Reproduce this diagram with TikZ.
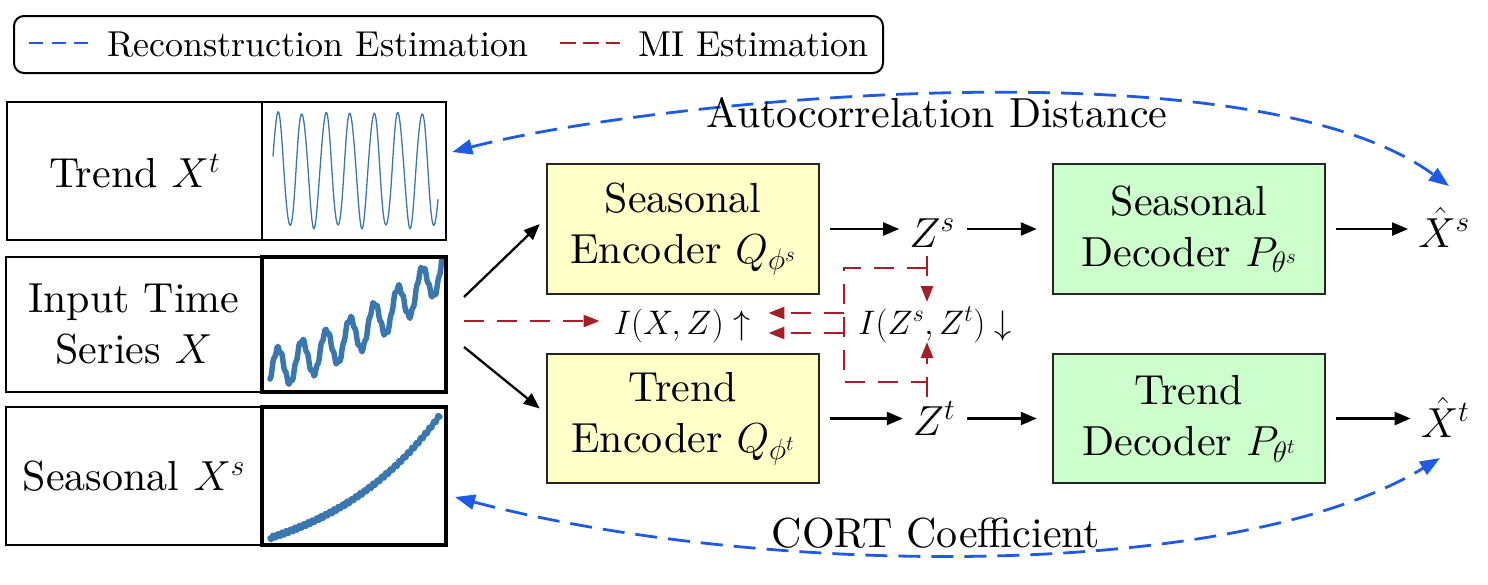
\RequirePackage{fix-cm}
\documentclass[tikz,border=0pt]{standalone}
\usepackage[no-math]{fontspec}
\setmainfont{lmroman10-regular.otf}
\usetikzlibrary{arrows.meta}
\definecolor{rblue}{RGB}{30,90,230}
\definecolor{rred}{RGB}{165,30,40}
\definecolor{yfill}{RGB}{255,255,200}
\definecolor{gfill}{RGB}{204,255,204}
\definecolor{pblue}{RGB}{58,118,176}
\begin{document}
\begin{tikzpicture}[x=1pt,y=-1pt,
  big/.style={font=\fontsize{42}{51}\selectfont},
  midf/.style={font=\fontsize{34}{40}\selectfont},
  legf/.style={font=\fontsize{36}{42}\selectfont},
  blk/.style={draw=black!85, line width=2.5pt, minimum width=272pt, minimum height=130pt, inner sep=0pt, align=center, big},
  encbox/.style={blk, fill=yfill},
  decbox/.style={blk, fill=gfill},
  lbl/.style={draw, line width=2pt, minimum width=255pt, minimum height=138pt, inner sep=0pt, align=center, big},
  pfr/.style={draw, minimum width=184pt, minimum height=138pt, inner sep=0pt},
  txt/.style={big, inner sep=2pt},
  arr/.style={-{Triangle[length=16pt,width=13pt]}, line width=2.3pt},
  bdash/.style={rblue, line width=2.8pt, dash pattern=on 22pt off 11pt},
  btips/.style={{Triangle[length=20pt,width=15pt]}-{Triangle[length=20pt,width=15pt]}},
  rdash/.style={rred, line width=2.5pt, dash pattern=on 20pt off 13pt},
  rtip/.style={-{Triangle[length=16pt,width=12pt]}}
]
\useasboundingbox (0,0) rectangle (1488,584);

% legend
\node[draw, rounded corners=10pt, line width=2pt, minimum width=869pt, minimum height=57pt, inner sep=0pt] (leg) at (448.5,44.5) {};
\coordinate (lb1) at (29,43);
\coordinate (lb2) at (88,43);
\draw[rblue, line width=2.8pt, dash pattern=on 14pt off 8.5pt] (lb1) -- (lb2);
\node[legf, anchor=base west, inner sep=0pt] (legr) at (107,56) {Reconstruction Estimation};
\coordinate (lr1) at (560,43);
\coordinate (lr2) at (620,43);
\draw[rred, line width=2.8pt, dash pattern=on 16pt off 7pt] (lr1) -- (lr2);
\node[legf, anchor=base west, inner sep=0pt] (legm) at (638,56) {MI Estimation};

% plots
\draw[pblue, line width=1.3pt, line join=round] plot[domain=273:438, samples=166] (\x, {170 - 57*sin(15*(\x-272)) + 2*sin(37*(\x-272))});
\draw[pblue, line width=5.5pt, line join=round, line cap=round] plot[domain=270:442, samples=173] (\x,{366 - 0.2955*(\x-283) - 19.58*((\x-283)/100)^2 - 19*sin(15*(\x-272)) + 2.5*sin(83*(\x-270))});
\draw[pblue, line width=5.5pt, line join=round, line cap=round] plot[domain=270:440, samples=171] (\x, {538 - 123*(exp(1.46*(\x-270)/170)-1)/3.306 + 2*sin(83*(\x-270))});

% left boxes
\node[lbl] (tl) at (134.5,171) {Trend $X^t$};
\node[pfr, line width=2.6pt] (tp) at (354,171) {};
\node[lbl, minimum width=256pt, minimum height=135pt] (il) at (134,324.5) {Input Time\\Series $X$};
\node[pfr, line width=4pt, minimum height=135pt] (ip) at (354,324.5) {};
\node[lbl, minimum width=256pt] (sl) at (134,476) {Seasonal $X^s$};
\node[pfr, line width=4pt] (sp) at (354,476) {};

% encoders / decoders
\node[encbox] (senc) at (683,229) {Seasonal\\Encoder $Q_{\phi^s}$};
\node[encbox, minimum height=129pt] (tenc) at (683,418.5) {Trend\\Encoder $Q_{\phi^t}$};
\node[decbox] (sdec) at (1189,229) {Seasonal\\Decoder $P_{\theta^s}$};
\node[decbox, minimum height=129pt] (tdec) at (1189,418.5) {Trend\\Decoder $P_{\theta^t}$};

% latent and outputs
\node[txt, anchor=base] (zs) at (932,247) {$Z^s$};
\node[txt, anchor=base] (zt) at (934,435) {$Z^t$};
\node[txt, anchor=base] (xs) at (1444,247) {$\hat X^s$};
\node[txt, anchor=base] (xt) at (1445,437) {$\hat X^t$};

% MI labels
\node[midf, anchor=base, inner sep=2pt] (ixz) at (682,334) {$I(X,Z)\uparrow$};
\node[midf, anchor=base, inner sep=2pt] (mi) at (935,334) {$I(Z^s,Z^t)\downarrow$};

% black arrows
\draw[arr] ([shift={(16,-27.5)}]ip.east) -- ([shift={(-6,-5)}]senc.west);
\draw[arr] ([shift={(16,22.5)}]ip.east) -- ([shift={(-6,-10)}]tenc.west);
\draw[arr] ([xshift=10pt]senc.east) -- ([xshift=-8pt]zs.west |- senc.east);
\draw[arr] ([xshift=10pt]zs.east |- senc.east) -- ([xshift=-15pt]sdec.west);
\draw[arr] ([xshift=10pt]tenc.east) -- ([xshift=-8pt]zt.west |- tenc.east);
\draw[arr] ([xshift=10pt]zt.east |- tenc.east) -- ([xshift=-15pt]tdec.west);
\draw[arr] ([xshift=10pt]sdec.east) -- ([xshift=-8pt]xs.west |- sdec.east);
\draw[arr] ([xshift=10pt]tdec.east) -- ([xshift=-8pt]xt.west |- tdec.east);

% red MI paths
\coordinate (zsb) at (927,256);
\coordinate (mit) at (927,302);
\coordinate (ztb) at (927,397);
\coordinate (mib) at (927,342);
\coordinate (rtl) at (844,268);
\coordinate (rbl) at (844,382);
\draw[rdash, rtip] (zsb) -- (mit);
\draw[rdash, rtip] (ztb) -- (mib);
\draw[rdash] (zsb |- rtl) -- (rtl) -- (rbl) -- (ztb |- rbl);
\draw[rdash, rtip] (844,313) -- ([xshift=16pt]ixz.east |- 0,313);
\draw[rdash, rtip] (844,333) -- ([xshift=16pt]ixz.east |- 0,333);
\draw[rdash, rtip] ([shift={(16,-3.5)}]ip.east) -- ([xshift=-12pt]ixz.west |- 0,321);

% blue reconstruction curves
\draw[bdash, btips] ([shift={(5,-19)}]tp.east) .. controls (650,100) and (1250,40) .. (1449,186);
\draw[bdash, btips] ([shift={(7,21)}]sp.east) .. controls (750,575) and (1230,585) .. (1440,458);
\node[big, anchor=base, inner sep=0pt] (acd) at (937,127) {Autocorrelation Distance};
\node[big, anchor=base, inner sep=0pt] (cort) at (936,547) {CORT Coefficient};
\end{tikzpicture}
\end{document}
